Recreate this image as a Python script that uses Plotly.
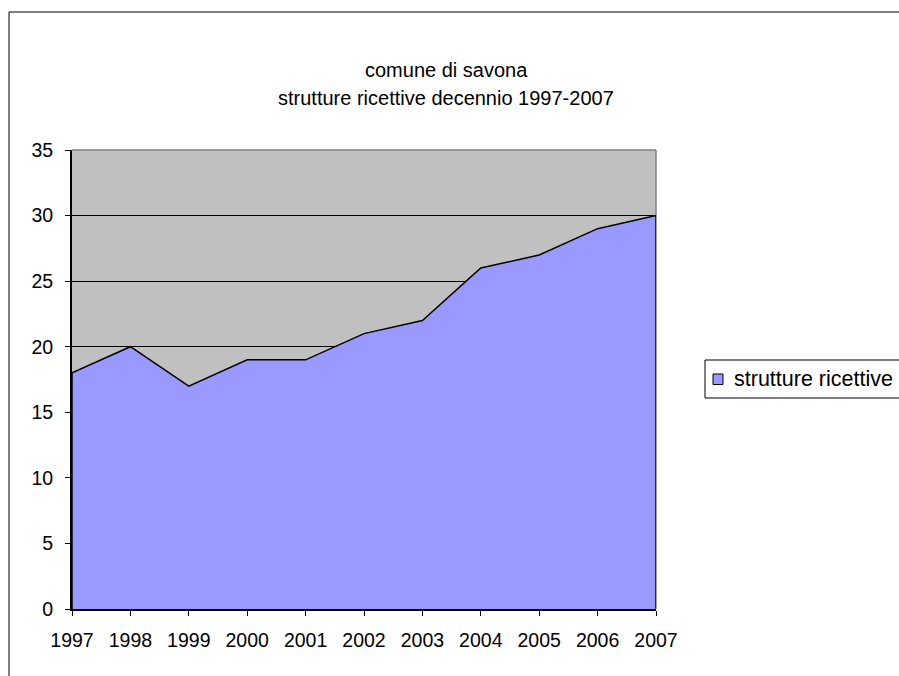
import plotly.graph_objects as go

# Strutture ricettive nel comune di Savona, 1997-2007
years = [1997, 1998, 1999, 2000, 2001, 2002, 2003, 2004, 2005, 2006, 2007]
strutture = [18, 20, 17, 19, 19, 21, 22, 26, 27, 29, 30]
series_name = "strutture ricettive"
y_ticks = [0, 5, 10, 15, 20, 25, 30, 35]
title_lines = ["comune di savona", "strutture ricettive decennio 1997-2007"]

FONT = "Liberation Sans, Arial, sans-serif"
FILL = "#9999FF"
TICK_SIZE = 19.5

# plot area in pixels (left, right, top, bottom)
PL, PR, PT, PB = 72, 656, 150, 609


def px_x(x):
    return (x - PL) / (PR - PL)


def px_y(y):
    return (PB - y) / (PB - PT)


fig = go.Figure()

# closed area polygon: baseline -> values -> baseline
poly_x = [years[0]] + years + [years[-1]]
poly_y = [0] + strutture + [0]
fig.add_trace(go.Scatter(
    x=poly_x, y=poly_y, mode="lines", fill="toself",
    fillcolor=FILL, line=dict(color="black", width=1.5),
    showlegend=False, hoverinfo="skip",
))

# two-line chart title, centred on the chart frame
annotations = [
    dict(text=line, xref="paper", yref="paper",
         x=px_x(446), y=px_y(yc),
         xanchor="center", yanchor="middle", showarrow=False,
         font=dict(family=FONT, size=20, color="black"))
    for line, yc in zip(title_lines, [70, 98])
]
# legend label
annotations.append(dict(
    text=series_name, xref="paper", yref="paper",
    x=px_x(732), y=px_y(379), xanchor="left", yanchor="middle",
    showarrow=False, font=dict(family=FONT, size=21.5, color="black"),
))

shapes = [
    # grey top and right edges of the plot area
    dict(type="line", xref="paper", yref="paper", x0=0, x1=1, y0=1, y1=1,
         line=dict(color="#808080", width=1.5)),
    dict(type="line", xref="paper", yref="paper", x0=1, x1=1, y0=0, y1=1,
         line=dict(color="#808080", width=1.5), layer="below"),
    # outer chart frame
    dict(type="rect", xref="paper", yref="paper",
         x0=px_x(9), x1=1.6, y0=px_y(12), y1=-0.5,
         line=dict(color="black", width=1)),
    # legend box and swatch
    dict(type="rect", xref="paper", yref="paper",
         x0=px_x(705), x1=px_x(915), y0=px_y(360), y1=px_y(398),
         line=dict(color="black", width=1), fillcolor="white"),
    dict(type="rect", xref="paper", yref="paper",
         x0=px_x(713), x1=px_x(723), y0=px_y(374), y1=px_y(384.5),
         line=dict(color="black", width=1), fillcolor=FILL),
]

fig.update_layout(
    width=899, height=676,
    margin=dict(l=PL, r=899 - PR, t=PT, b=676 - PB, autoexpand=False),
    paper_bgcolor="white",
    plot_bgcolor="#C0C0C0",
    showlegend=False,
    font=dict(family=FONT, size=TICK_SIZE, color="black"),
    annotations=annotations,
    shapes=shapes,
    xaxis=dict(
        range=[years[0], years[-1]],
        tickmode="array", tickvals=years, ticktext=[str(y) for y in years],
        ticks="outside", ticklen=5, tickcolor="black", tickwidth=1,
        showgrid=False, zeroline=False,
        showline=True, linecolor="black", linewidth=2,
        tickfont=dict(size=TICK_SIZE), ticklabelstandoff=8,
    ),
    yaxis=dict(
        range=[0, 35],
        tickmode="array", tickvals=y_ticks,
        ticks="outside", ticklen=5, tickcolor="black", tickwidth=1,
        showgrid=True, gridcolor="black", gridwidth=1,
        zeroline=False,
        showline=True, linecolor="black", linewidth=2,
        tickfont=dict(size=TICK_SIZE), ticklabelstandoff=8,
    ),
)

fig.write_html("out.html")
